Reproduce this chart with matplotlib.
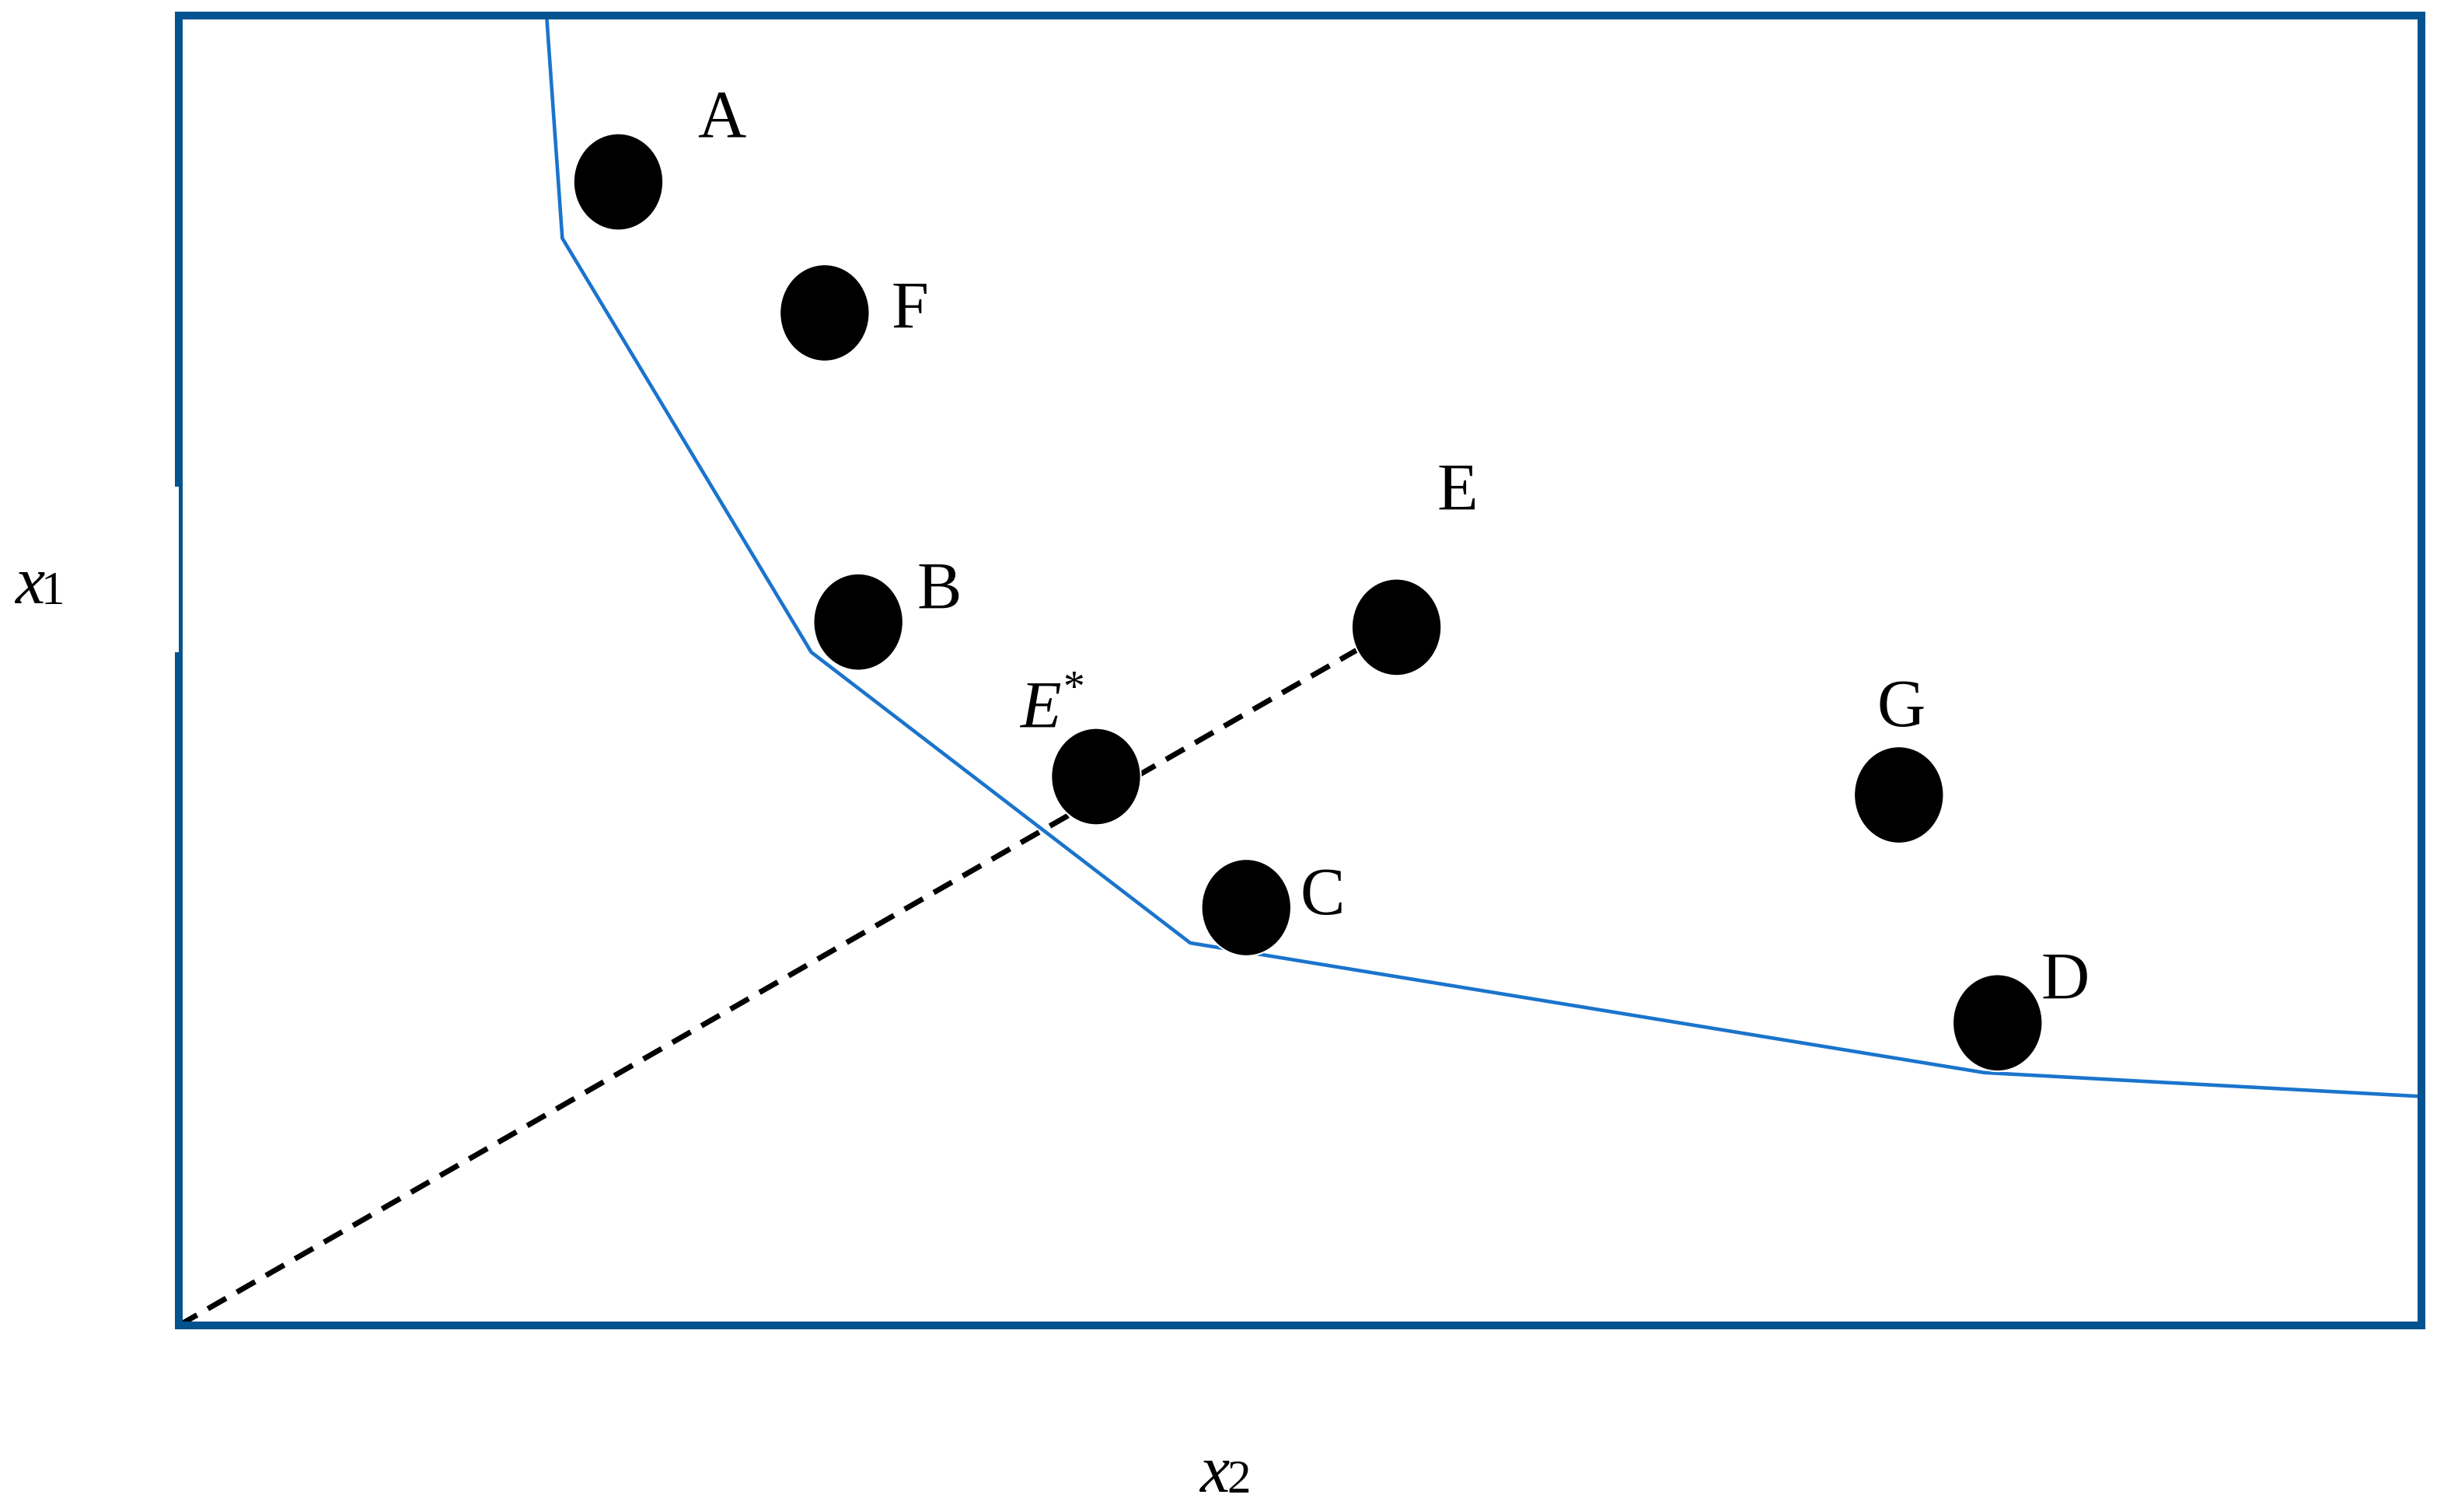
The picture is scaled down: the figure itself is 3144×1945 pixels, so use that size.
import matplotlib
matplotlib.use("Agg")
import matplotlib.pyplot as plt
import matplotlib.patches as patches

# Puntos (x2 horizontal, x1 vertical), en unidades 0-100 del recuadro
nombres = ["A", "F", "B", "E", "E*", "C", "G", "D"]
x2_pts = [19.6, 28.8, 30.3, 54.3, 40.9, 47.6, 76.7, 81.1]
x1_pts = [87.3, 77.3, 53.7, 53.3, 41.9, 31.9, 40.5, 23.1]

# Posiciones de las etiquetas
x2_lab = [24.2, 32.6, 33.9, 57.0, 38.4, 51.0, 76.8, 84.1]
x1_lab = [92.0, 77.4, 56.0, 63.5, 46.9, 32.6, 47.0, 26.2]

# Frontera (isocuanta)
x2_front = [16.4, 17.1, 28.2, 45.1, 80.5, 99.8]
x1_front = [100.0, 83.0, 51.4, 29.2, 19.3, 17.5]

# Rayo desde el origen hasta E
x2_rayo = [0.0, 54.3]
x1_rayo = [0.0, 53.3]

W, H = 3144, 1945
fig = plt.figure(figsize=(W / 100, H / 100), dpi=100)
ax = fig.add_axes([230 / W, (H - 1705) / H, 2885 / W, 1685 / H])
ax.set_xlim(0, 100)
ax.set_ylim(0, 100)
ax.set_xticks([])
ax.set_yticks([])
for s in ax.spines.values():
    s.set_color("#02538f")
    s.set_linewidth(7.2)

ax.plot(x2_front, x1_front, color="#1a74cc", lw=3.3, zorder=2,
        solid_joinstyle="miter")
ax.plot(x2_rayo, x1_rayo, color="black", lw=5, dashes=(3.9, 2.3), zorder=2)

for n, x, y, lx, ly in zip(nombres, x2_pts, x1_pts, x2_lab, x1_lab):
    ax.add_patch(patches.Ellipse((x, y), 4.0, 7.4, facecolor="black",
                                 edgecolor="white", lw=1.5, zorder=3))
    if n == "E*":
        ax.text(lx, ly, "E", fontsize=62, family="Liberation Serif",
                style="italic", ha="center", va="center")
        ax.text(lx + 1.5, ly + 1.6, "*", fontsize=40,
                family="Liberation Serif", ha="center", va="center")
    else:
        ax.text(lx, ly, n, fontsize=62, family="Liberation Serif",
                ha="center", va="center")

# Tramo fino del borde izquierdo
fig.patches.append(patches.Rectangle((222 / W, (H - 839) / H), 8 / W, 213 / H,
                                     transform=fig.transFigure,
                                     facecolor="white", edgecolor="none",
                                     zorder=5))

# Etiquetas de ejes
fig.text(38 / W, 1 - 755 / H, "x", fontsize=62, family="Liberation Serif",
         style="italic", ha="center", va="center")
fig.text(68 / W, 1 - 762 / H, "1", fontsize=44, family="Liberation Serif",
         ha="center", va="center")
fig.text(1562 / W, 1 - 1898 / H, "x", fontsize=62, family="Liberation Serif",
         style="italic", ha="center", va="center")
fig.text(1594 / W, 1 - 1905 / H, "2", fontsize=44, family="Liberation Serif",
         ha="center", va="center")

fig.savefig("out.png", dpi=100)
